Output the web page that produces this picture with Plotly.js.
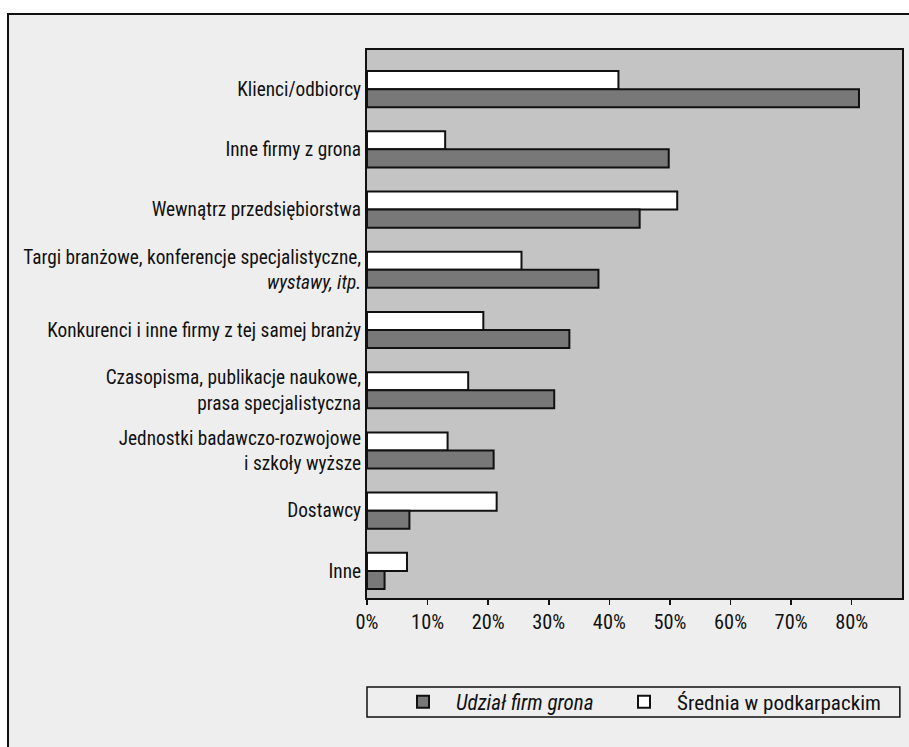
<!DOCTYPE html>
<html>
<head>
<meta charset="utf-8">
<script src="https://cdn.plot.ly/plotly-3.0.1.min.js"></script>
<style>html,body{margin:0;padding:0;background:#fff}</style>
<style id="stretchStyle"></style>
</head>
<body>
<div id="chart" style="width:909px;height:747px"></div>
<script>
const categories = [
  "Klienci/odbiorcy",
  "Inne firmy z grona",
  "Wewnątrz przedsiębiorstwa",
  "Targi branżowe, konferencje specjalistyczne,<br><i>wystawy, itp.</i>",
  "Konkurenci i inne firmy z tej samej branży",
  "Czasopisma, publikacje naukowe,<br>prasa specjalistyczna",
  "Jednostki badawczo-rozwojowe<br>i szkoły wyższe",
  "Dostawcy",
  "Inne"
];
const udzialFirmGrona = [81.2, 49.8, 45.0, 38.2, 33.4, 30.9, 20.9, 7.0, 2.9];
const sredniaPodkarpackie = [41.5, 12.9, 51.2, 25.5, 19.2, 16.7, 13.3, 21.4, 6.6];
const seriesNames = ["<i>Udział firm grona</i>", "Średnia w podkarpackim"];
const xTickVals = [0, 10, 20, 30, 40, 50, 60, 70, 80];
const xTickText = ["0%", "10%", "20%", "30%", "40%", "50%", "60%", "70%", "80%"];

// ---- pick an installed sans font whose width suits the condensed grotesque of the reference
const ctx = document.createElement("canvas").getContext("2d");
function measure(fam, stretch, text, size) {
  ctx.font = (size || 20) + "px " + fam;
  try { ctx.fontStretch = stretch || "normal"; } catch (e) {}
  return ctx.measureText(text).width;
}
const SAMPLE = "Targi branżowe, konferencje specjalistyczne,";
const TARGET_W = 338, IDEAL_SIZE = 19.5;
const candidates = [
  {f: "Liberation Sans Narrow", s: "normal"},
  {f: "Arial Narrow", s: "normal"},
  {f: "Roboto Condensed", s: "normal"},
  {f: "Nimbus Sans Narrow", s: "normal"},
  {f: "Roboto", s: "condensed"},
  {f: "Roboto", s: "semi-condensed"},
  {f: "Noto Sans", s: "condensed"},
  {f: "Noto Sans", s: "semi-condensed"},
  {f: "Open Sans", s: "condensed"},
  {f: "Open Sans", s: "semi-condensed"},
  {f: "DejaVu Sans Condensed", s: "normal"},
  {f: "Liberation Sans", s: "normal"}
];
let best = null;
candidates.forEach(c => {
  const w = measure("'" + c.f + "', monospace", c.s, SAMPLE);
  const wm = measure("monospace", c.s, SAMPLE);
  if (Math.abs(w - wm) <= 0.5) return;
  const size = 20 * TARGET_W / w;
  const score = Math.abs(size - IDEAL_SIZE);
  if (!best || score < best.score - 0.05) best = {f: c.f, s: c.s, w: w, score: score};
});
if (!best) best = {f: "sans-serif", s: "normal", w: measure("sans-serif", "normal", SAMPLE)};
const FONT = "'" + best.f + "', sans-serif";
if (best.s !== "normal") {
  document.getElementById("stretchStyle").textContent =
    "#chart text { font-stretch: " + best.s + " !important; }";
}
function sizeFor(text, targetPx, maxSize) {
  const w = measure(FONT, best.s, text, 20);
  return Math.max(13, Math.min(maxSize, 20 * targetPx / w));
}
const labelSize = sizeFor(SAMPLE, TARGET_W, 21);
const tickSize = sizeFor("10%", 33, 21);
const legendSize = sizeFor("Średnia w podkarpackim", 204, 22);
const legendTextW = measure(FONT, best.s, "Średnia w podkarpackim", legendSize);

const traces = [
  {
    type: "bar", orientation: "h",
    name: seriesNames[1],
    y: categories, x: sredniaPodkarpackie,
    marker: {color: "#ffffff", line: {color: "#111", width: 2}},
    legendrank: 2,
    legendwidth: Math.ceil(legendTextW) + 4,
    hoverinfo: "x+y"
  },
  {
    type: "bar", orientation: "h",
    name: seriesNames[0],
    y: categories, x: udzialFirmGrona,
    marker: {color: "#787878", line: {color: "#111", width: 2}},
    legendrank: 1,
    legendwidth: 150,
    hoverinfo: "x+y"
  }
];

const layout = {
  width: 909, height: 747,
  margin: {l: 367, r: 7, t: 50, b: 149, pad: 0},
  paper_bgcolor: "#ffffff",
  plot_bgcolor: "rgba(0,0,0,0)",
  font: {family: FONT, size: labelSize, color: "#111"},
  barmode: "group",
  bargap: 0.4,
  bargroupgap: 0,
  showlegend: true,
  legend: {
    orientation: "h",
    x: 0.043, xanchor: "left",
    y: -0.19, yanchor: "middle",
    bgcolor: "rgba(0,0,0,0)",
    borderwidth: 0,
    itemwidth: 56,
    entrywidthmode: "pixels",
    font: {family: FONT, size: legendSize, color: "#111"},
    itemclick: false, itemdoubleclick: false
  },
  xaxis: {
    range: [0, 88.3],
    tickmode: "array",
    tickvals: xTickVals,
    ticktext: xTickText,
    ticks: "outside", ticklen: 5, tickwidth: 1.5, tickcolor: "#111",
    showgrid: false, zeroline: false,
    showline: true, linecolor: "#111", linewidth: 2, mirror: true,
    tickfont: {family: FONT, size: tickSize, color: "#111"},
    fixedrange: true
  },
  yaxis: {
    type: "category",
    range: [8.45, -0.65],
    autorange: false,
    ticks: "",
    showgrid: false, zeroline: false,
    showline: true, linecolor: "#111", linewidth: 2, mirror: true,
    tickfont: {family: FONT, size: labelSize, color: "#111"},
    fixedrange: true
  },
  shapes: [
    {type: "rect", xref: "paper", yref: "paper", layer: "below",
     x0: -0.671, x1: 1.03, y0: -0.3, y1: 1.0657,
     fillcolor: "#eeeeee", line: {color: "#111", width: 2}},
    {type: "rect", xref: "paper", yref: "paper", layer: "below",
     x0: 0, x1: 1, y0: 0, y1: 1,
     fillcolor: "#c4c4c4", line: {width: 0}},
    {type: "rect", xref: "paper", yref: "paper", layer: "below",
     x0: 0, x1: 0.996, y0: -0.2172, y1: -0.1624,
     fillcolor: "rgba(0,0,0,0)", line: {color: "#111", width: 1.5}}
  ]
};

Plotly.newPlot("chart", traces, layout, {displayModeBar: false, staticPlot: true});
</script>
</body>
</html>
